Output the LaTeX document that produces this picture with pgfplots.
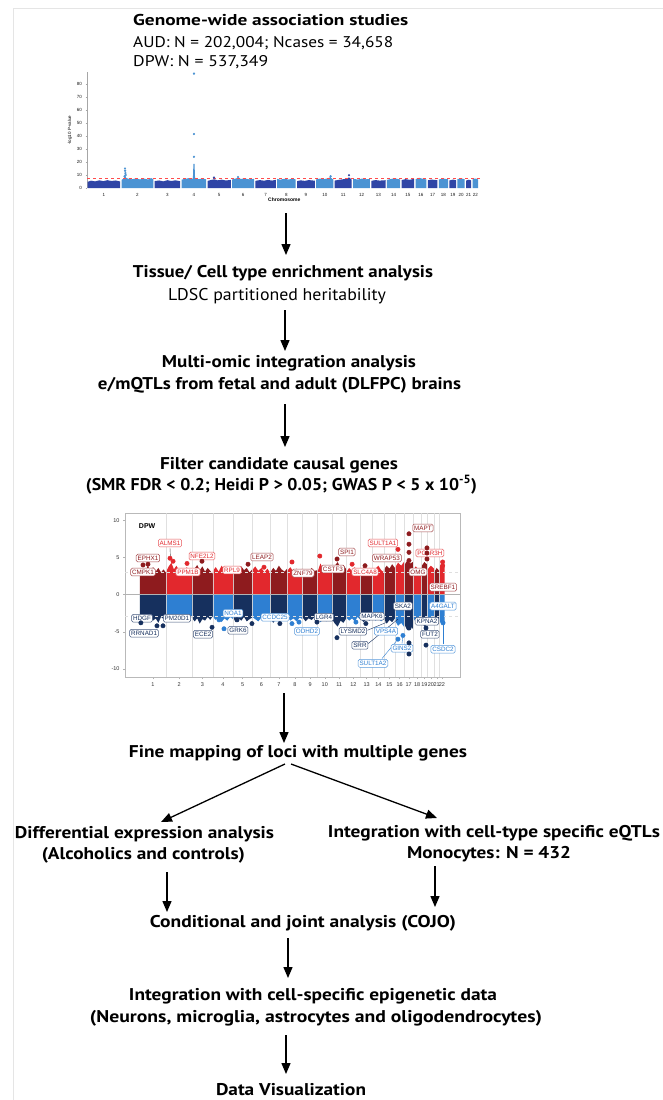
\documentclass[border=0pt]{standalone}
\usepackage{pgfplots}
\pgfplotsset{compat=1.18}
\usepackage{fontspec}
\setmainfont{PT Sans}
\newfontfamily\lab{Liberation Sans}
\usetikzlibrary{arrows.meta}
\usepackage{graphicx}
\definecolor{dred}{HTML}{8E1B1E}
\definecolor{lred}{HTML}{E2282D}
\definecolor{navy}{HTML}{16305E}
\definecolor{lblue}{HTML}{2E7FD2}
\definecolor{mdblue}{HTML}{2F45A6}
\definecolor{mlblue}{HTML}{4B93D3}
\newcommand{\fl}[3]{\resizebox{#1pt}{\height}{\fontsize{#2}{#2}\selectfont #3}}
\tikzset{flow/.style={line width=1.3pt,-{Triangle[length=11pt,width=9pt]}},
 lbl/.style={draw=#1!80,text=#1,fill=white,rounded corners=1.5pt,inner sep=1.4pt,line width=0.5pt,
   font=\lab\fontsize{6.3}{6.3}\selectfont,text height=4.6pt,text depth=0.4pt}}
\begin{document}
\begin{tikzpicture}
\useasboundingbox (0,0) rectangle (663pt,-1100pt);
\fill[white] (0,0) rectangle (663pt,-1100pt);
\draw[gray!20,line width=0.8pt] (13pt,-1100pt) -- (13pt,-8pt) -- (663pt,-8pt);
% top text
\node[anchor=base west,inner sep=0pt] at (133pt,-26pt) {\fl{275}{15.7}{\bfseries Genome-wide association studies}};
\node[anchor=base west,inner sep=0pt] at (133pt,-47pt) {\fl{260}{15.5}{AUD: N = 202,004; Ncases = 34,658}};
\node[anchor=base west,inner sep=0pt] at (133pt,-66pt) {\fl{135}{15.5}{DPW: N = 537,349}};
% Manhattan
\begin{axis}[at={(87pt,-188pt)},anchor=south west,scale only axis,width=394.7pt,height=115.7pt,
 xmin=0,xmax=2900,ymin=0,ymax=89,clip=false,
 axis lines=left,axis line style={-},x axis line style={draw=none},
 y axis line style={gray!70,line width=0.4pt},
 xtick style={draw=none},ytick style={gray!70,line width=0.3pt},
 tick align=outside,major tick length=1.5pt,
 ytick={0,10,20,30,40,50,60,70,80},
 xtick={124.5,370.5,591,785.5,971.5,1147.5,1312.5,1465,1608.5,1747,1882.5,2017,2141.5,2252.5,2357.5,2454,2539.5,2619,2687.5,2748.5,2804,2853.5},
 xticklabels={1,2,3,4,5,6,7,8,9,10,11,12,13,14,15,16,17,18,19,20,21,22},
 /pgf/number format/assume math mode=true,
 ticklabel style={font=\lab\fontsize{4.5}{5}\selectfont,text=gray!20!black},
 xlabel={\bfseries Chromosome},xlabel style={font=\lab\fontsize{5}{6}\selectfont,yshift=5pt},
 ylabel={-log10 P-value},ylabel style={font=\lab\fontsize{4.5}{5}\selectfont,yshift=-2pt}]
\addplot[fill=mdblue,draw=none] coordinates {(5,0)(5,4.8)(30,5.6)(60,5.1)(90,5.9)(120,5.3)(150,6.0)(180,5.4)(210,5.8)(244,5.0)(244,0)};
\addplot[fill=mlblue,draw=none] coordinates {(254,0)(254,6.2)(265,7.0)(276,8.5)(280,9.8)(286,8.0)(300,7.2)(330,6.7)(360,7.4)(390,6.6)(420,7.2)(450,6.5)(470,7.6)(487,6.8)(487,0)};
\addplot[fill=mdblue,draw=none] coordinates {(497,0)(497,5.3)(530,5.8)(560,5.1)(590,6.0)(620,5.4)(650,5.9)(685,5.2)(685,0)};
\addplot[fill=mlblue,draw=none] coordinates {(695,0)(695,6.4)(720,7.0)(750,7.6)(778,7.2)(782,18.5)(790,18.5)(794,7.4)(820,6.8)(850,7.3)(876,6.6)(876,0)};
\addplot[fill=mdblue,draw=none] coordinates {(886,0)(886,5.5)(910,6.1)(935,6.7)(960,5.9)(990,6.4)(1020,5.8)(1057,6.2)(1057,0)};
\addplot[fill=mlblue,draw=none] coordinates {(1067,0)(1067,6.6)(1090,7.2)(1110,7.9)(1130,7.0)(1160,7.3)(1190,6.7)(1228,7.0)(1228,0)};
\addplot[fill=mdblue,draw=none] coordinates {(1238,0)(1238,5.5)(1270,6.1)(1300,5.6)(1330,6.2)(1360,5.7)(1387,6.3)(1387,0)};
\addplot[fill=mlblue,draw=none] coordinates {(1397,0)(1397,7.0)(1420,6.4)(1450,7.1)(1480,6.5)(1510,7.2)(1533,6.6)(1533,0)};
\addplot[fill=mdblue,draw=none] coordinates {(1543,0)(1543,5.3)(1570,5.9)(1600,5.5)(1630,6.1)(1674,5.6)(1674,0)};
\addplot[fill=mlblue,draw=none] coordinates {(1684,0)(1684,6.6)(1710,7.2)(1740,6.8)(1770,7.5)(1790,8.4)(1800,7.1)(1810,6.7)(1810,0)};
\addplot[fill=mdblue,draw=none] coordinates {(1820,0)(1820,5.7)(1850,6.3)(1880,6.7)(1910,7.2)(1925,8.2)(1945,6.4)(1945,0)};
\addplot[fill=mlblue,draw=none] coordinates {(1955,0)(1955,7.1)(1990,6.5)(2020,7.2)(2050,6.7)(2079,7.0)(2079,0)};
\addplot[fill=mdblue,draw=none] coordinates {(2089,0)(2089,5.5)(2120,6.1)(2150,5.7)(2194,6.0)(2194,0)};
\addplot[fill=mlblue,draw=none] coordinates {(2204,0)(2204,6.2)(2230,6.9)(2260,7.4)(2301,6.6)(2301,0)};
\addplot[fill=mdblue,draw=none] coordinates {(2311,0)(2311,6.1)(2340,6.8)(2370,6.3)(2404,7.0)(2404,0)};
\addplot[fill=mlblue,draw=none] coordinates {(2414,0)(2414,6.8)(2440,7.8)(2470,7.0)(2494,6.6)(2494,0)};
\addplot[fill=mdblue,draw=none] coordinates {(2504,0)(2504,5.9)(2530,6.5)(2575,6.0)(2575,0)};
\addplot[fill=mlblue,draw=none] coordinates {(2585,0)(2585,6.6)(2620,7.2)(2653,6.7)(2653,0)};
\addplot[fill=mdblue,draw=none] coordinates {(2663,0)(2663,5.8)(2690,6.5)(2712,5.9)(2712,0)};
\addplot[fill=mlblue,draw=none] coordinates {(2722,0)(2722,6.9)(2750,7.4)(2775,6.7)(2775,0)};
\addplot[fill=mdblue,draw=none] coordinates {(2785,0)(2785,5.7)(2805,6.4)(2823,5.8)(2823,0)};
\addplot[fill=mlblue,draw=none] coordinates {(2833,0)(2833,6.8)(2855,7.3)(2874,6.6)(2874,0)};
\addplot[red!70,dashed,line width=0.4pt] coordinates {(0,7.3)(2900,7.3)};
\addplot[only marks,mark=*,mark size=0.9pt,mlblue] coordinates {(786,88)(786,41.5)(786,24)(279,15)(280,13.3)(282,11.5)(284,10)(276,9)(1110,8.4)(1790,9.0)};
\addplot[only marks,mark=*,mark size=0.9pt,mdblue] coordinates {(933,8.0)(1925,9.8)};
\end{axis}
% arrows and middle text
\draw[flow] (286pt,-213pt) -- (286pt,-255pt);
\node[anchor=base,inner sep=0pt] at (283pt,-277pt) {\fl{300}{17}{\bfseries Tissue/ Cell type enrichment analysis}};
\node[anchor=base,inner sep=0pt] at (277pt,-300pt) {\fl{218}{17}{LDSC partitioned heritability}};
\draw[flow] (285pt,-310pt) -- (285pt,-351pt);
\node[anchor=base,inner sep=0pt] at (289pt,-367pt) {\fl{254}{17}{\bfseries Multi-omic integration analysis}};
\node[anchor=base,inner sep=0pt] at (279.5pt,-389pt) {\fl{363}{17}{\bfseries e/mQTLs from fetal and adult (DLFPC) brains}};
\draw[flow] (285pt,-404pt) -- (285pt,-447pt);
\node[anchor=base,inner sep=0pt] at (279pt,-469pt) {\fl{238}{17}{\bfseries Filter candidate causal genes}};
\node[anchor=base,inner sep=0pt] at (281.5pt,-490pt) {\fl{391}{17}{\bfseries (SMR FDR < 0.2; Heidi P > 0.05; GWAS P < 5 x 10\textsuperscript{-5})}};
% Miami
\begin{axis}[at={(125pt,-677pt)},anchor=south west,scale only axis,width=335pt,height=164pt,
 xmin=-140,xmax=3024,ymin=-11.1,ymax=11,clip=false,
 axis line style={gray!55,line width=0.5pt},tick pos=left,tick align=outside,major tick length=2pt,
 tick style={gray!60,line width=0.4pt},ytick={-10,-5,0,5,10},
 xtick={124.5,370.5,591,785.5,971.5,1147.5,1312.5,1465,1608.5,1747,1882.5,2017,2141.5,2252.5,2357.5,2454,2539.5,2619,2687.5,2748.5,2804,2853.5},
 xticklabels={1,2,3,4,5,6,7,8,9,10,11,12,13,14,15,16,17,18,19,20,21,22},
 /pgf/number format/assume math mode=true,
 ticklabel style={font=\lab\fontsize{5.5}{6}\selectfont,text=gray!40!black}]
% upper bands
\addplot[fill=dred,draw=none] coordinates {(0,0)(0,2.7)(25,3.5)(50,3.0)(75,3.9)(100,3.2)(125,3.7)(150,3.1)(175,3.6)(200,3.0)(225,3.4)(249,2.9)(249,0)};
\addplot[fill=lred,draw=none] coordinates {(249,0)(249,3.1)(273,3.8)(298,4.3)(322,3.4)(346,3.9)(371,3.2)(395,3.6)(419,3.0)(443,3.7)(468,3.3)(492,2.9)(492,0)};
\addplot[fill=dred,draw=none] coordinates {(492,0)(492,3.0)(517,3.5)(542,4.0)(566,3.3)(591,3.8)(616,3.1)(641,3.6)(665,3.2)(690,2.8)(690,0)};
\addplot[fill=lred,draw=none] coordinates {(690,0)(690,3.2)(717,3.7)(745,3.1)(772,3.9)(799,3.4)(826,3.0)(854,3.6)(881,3.1)(881,0)};
\addplot[fill=dred,draw=none] coordinates {(881,0)(881,2.9)(907,3.5)(933,3.1)(959,3.8)(984,3.3)(1010,3.6)(1036,3.0)(1062,3.4)(1062,0)};
\addplot[fill=lred,draw=none] coordinates {(1062,0)(1062,3.3)(1090,3.8)(1119,3.2)(1148,3.6)(1176,3.0)(1205,3.5)(1233,2.9)(1233,0)};
\addplot[fill=dred,draw=none] coordinates {(1233,0)(1233,3.0)(1260,3.6)(1286,3.2)(1313,3.9)(1339,3.4)(1366,3.1)(1392,3.5)(1392,0)};
\addplot[fill=lred,draw=none] coordinates {(1392,0)(1392,3.2)(1421,3.7)(1450,3.1)(1480,3.5)(1509,3.0)(1538,3.6)(1538,0)};
\addplot[fill=dred,draw=none] coordinates {(1538,0)(1538,2.9)(1566,3.4)(1594,3.0)(1623,3.6)(1651,3.2)(1679,3.3)(1679,0)};
\addplot[fill=lred,draw=none] coordinates {(1679,0)(1679,3.1)(1706,4.2)(1733,3.4)(1761,3.8)(1788,3.2)(1815,3.6)(1815,0)};
\addplot[fill=dred,draw=none] coordinates {(1815,0)(1815,3.3)(1842,3.9)(1869,4.4)(1896,3.5)(1923,4.0)(1950,3.4)(1950,0)};
\addplot[fill=lred,draw=none] coordinates {(1950,0)(1950,3.0)(1977,3.6)(2004,3.2)(2030,3.7)(2057,3.1)(2084,3.5)(2084,0)};
\addplot[fill=dred,draw=none] coordinates {(2084,0)(2084,3.2)(2113,3.7)(2142,3.3)(2170,3.6)(2199,3.0)(2199,0)};
\addplot[fill=lred,draw=none] coordinates {(2199,0)(2199,3.1)(2226,3.5)(2253,3.9)(2279,3.3)(2306,3.0)(2306,0)};
\addplot[fill=dred,draw=none] coordinates {(2306,0)(2306,3.4)(2332,3.9)(2358,3.5)(2383,4.1)(2409,3.6)(2409,0)};
\addplot[fill=lred,draw=none] coordinates {(2409,0)(2409,3.6)(2439,4.3)(2469,3.9)(2499,4.5)(2499,0)};
\addplot[fill=dred,draw=none] coordinates {(2499,0)(2499,4.0)(2526,4.6)(2553,4.2)(2580,4.4)(2580,0)};
\addplot[fill=lred,draw=none] coordinates {(2580,0)(2580,3.2)(2606,3.8)(2632,3.4)(2658,3.6)(2658,0)};
\addplot[fill=dred,draw=none] coordinates {(2658,0)(2658,3.8)(2688,4.4)(2717,4.0)(2717,0)};
\addplot[fill=lred,draw=none] coordinates {(2717,0)(2717,3.4)(2749,3.9)(2780,3.5)(2780,0)};
\addplot[fill=dred,draw=none] coordinates {(2780,0)(2780,3.0)(2804,3.6)(2828,3.2)(2828,0)};
\addplot[fill=lred,draw=none] coordinates {(2828,0)(2828,3.7)(2854,4.3)(2879,3.9)(2879,0)};
% lower bands
\addplot[fill=navy,draw=none] coordinates {(0,0)(0,-2.8)(25,-3.4)(50,-3.0)(75,-3.7)(100,-3.1)(125,-3.5)(150,-3.2)(175,-3.8)(200,-3.0)(225,-3.3)(249,-2.9)(249,0)};
\addplot[fill=lblue,draw=none] coordinates {(249,0)(249,-3.0)(273,-3.5)(298,-3.1)(322,-3.6)(346,-3.3)(371,-3.0)(395,-3.4)(419,-3.2)(443,-3.6)(468,-3.1)(492,-2.9)(492,0)};
\addplot[fill=navy,draw=none] coordinates {(492,0)(492,-3.1)(517,-3.6)(542,-3.2)(566,-3.9)(591,-3.3)(616,-3.5)(641,-3.0)(665,-3.4)(690,-2.9)(690,0)};
\addplot[fill=lblue,draw=none] coordinates {(690,0)(690,-3.0)(717,-3.4)(745,-3.1)(772,-3.7)(799,-3.2)(826,-3.5)(854,-3.0)(881,-3.3)(881,0)};
\addplot[fill=navy,draw=none] coordinates {(881,0)(881,-3.1)(907,-3.7)(933,-3.2)(959,-3.5)(984,-3.0)(1010,-3.6)(1036,-3.3)(1062,-3.1)(1062,0)};
\addplot[fill=lblue,draw=none] coordinates {(1062,0)(1062,-3.0)(1090,-3.3)(1119,-3.6)(1148,-3.1)(1176,-3.4)(1205,-2.9)(1233,-3.2)(1233,0)};
\addplot[fill=navy,draw=none] coordinates {(1233,0)(1233,-3.2)(1260,-3.8)(1286,-3.3)(1313,-3.6)(1339,-3.0)(1366,-3.5)(1392,-3.1)(1392,0)};
\addplot[fill=lblue,draw=none] coordinates {(1392,0)(1392,-3.0)(1421,-3.5)(1450,-3.2)(1480,-3.6)(1509,-3.1)(1538,-3.3)(1538,0)};
\addplot[fill=navy,draw=none] coordinates {(1538,0)(1538,-3.1)(1566,-3.6)(1594,-3.2)(1623,-3.4)(1651,-3.0)(1679,-3.5)(1679,0)};
\addplot[fill=lblue,draw=none] coordinates {(1679,0)(1679,-3.2)(1706,-3.7)(1733,-3.3)(1761,-3.6)(1788,-3.1)(1815,-3.4)(1815,0)};
\addplot[fill=navy,draw=none] coordinates {(1815,0)(1815,-3.3)(1842,-3.9)(1869,-4.3)(1896,-3.5)(1923,-3.8)(1950,-3.2)(1950,0)};
\addplot[fill=lblue,draw=none] coordinates {(1950,0)(1950,-3.1)(1977,-3.5)(2004,-3.2)(2030,-3.6)(2057,-3.0)(2084,-3.4)(2084,0)};
\addplot[fill=navy,draw=none] coordinates {(2084,0)(2084,-3.2)(2113,-3.7)(2142,-3.3)(2170,-3.5)(2199,-3.0)(2199,0)};
\addplot[fill=lblue,draw=none] coordinates {(2199,0)(2199,-3.0)(2226,-3.5)(2253,-3.2)(2279,-3.6)(2306,-3.1)(2306,0)};
\addplot[fill=navy,draw=none] coordinates {(2306,0)(2306,-3.3)(2332,-3.9)(2358,-3.4)(2383,-3.7)(2409,-3.2)(2409,0)};
\addplot[fill=lblue,draw=none] coordinates {(2409,0)(2409,-3.5)(2439,-4.2)(2469,-3.8)(2499,-4.4)(2499,0)};
\addplot[fill=navy,draw=none] coordinates {(2499,0)(2499,-4.0)(2526,-4.8)(2553,-4.3)(2580,-4.6)(2580,0)};
\addplot[fill=lblue,draw=none] coordinates {(2580,0)(2580,-3.2)(2606,-3.6)(2632,-3.3)(2658,-3.5)(2658,0)};
\addplot[fill=navy,draw=none] coordinates {(2658,0)(2658,-3.6)(2688,-4.3)(2717,-3.9)(2717,0)};
\addplot[fill=lblue,draw=none] coordinates {(2717,0)(2717,-3.3)(2749,-3.7)(2780,-3.4)(2780,0)};
\addplot[fill=navy,draw=none] coordinates {(2780,0)(2780,-3.0)(2804,-3.4)(2828,-3.2)(2828,0)};
\addplot[fill=lblue,draw=none] coordinates {(2828,0)(2828,-3.5)(2854,-4.1)(2879,-3.7)(2879,0)};
\pgfplotsinvokeforeach{249,492,690,881,1062,1233,1392,1538,1679,1815,1950,2084,2199,2306,2409,2499,2580,2658,2717,2780,2828}{\draw[white!72!gray,line width=0.5pt,opacity=0.85] (axis cs:#1,-11.1) -- (axis cs:#1,11);}
\draw[gray!60,line width=0.8pt] (axis cs:-140,0) -- (axis cs:3024,0);
\draw[gray!25,dashed,line width=0.5pt] (axis cs:-140,2.95) -- (axis cs:3024,2.95);
\draw[gray!25,dashed,line width=0.5pt] (axis cs:-140,-2.95) -- (axis cs:3024,-2.95);
% leader lines
\draw[gray!70!black,line width=0.4pt] (axis cs:285,6.3) -- (axis cs:290,4.9);
\draw[navy,line width=0.4pt] (axis cs:2157,-6.6) -- (axis cs:2438,-3.3);
\draw[lblue,line width=0.4pt] (axis cs:2288,-8.6) -- (axis cs:2438,-6.0);
\draw[lblue,line width=0.4pt] (axis cs:2476,-6.6) -- (axis cs:2485,-5.6);
\draw[lblue,line width=0.4pt] (axis cs:2863,-6.7) -- (axis cs:2863,-2.1);
\draw[navy,line width=0.4pt] (axis cs:2150,-4.8) -- (axis cs:2335,-3.7);
% points
\addplot[only marks,mark=*,mark size=2.2pt,dred] coordinates {(30,4.0)(77,4.1)(587,4.5)(1022,4.1)(1863,4.8)(2127,3.9)(2542,8.2)(2542,6.8)(2542,5.7)(2542,4.6)(2712,6.3)(2712,5.6)(2712,4.8)};
\addplot[only marks,mark=*,mark size=2.2pt,lred] coordinates {(285,4.9)(314,4.5)(446,4.2)(1173,3.7)(1437,4.4)(1700,5.2)(2005,4.1)(2438,6.1)(2860,4.4)(2860,3.9)};
\addplot[only marks,mark=*,mark size=2.2pt,navy] coordinates {(10,-3.8)(162,-4.2)(219,-4.2)(682,-4.4)(918,-3.4)(1059,-3.9)(1323,-3.9)(1673,-3.7)(1862,-5.8)(2135,-3.9)(2542,-3.4)(2542,-4.5)(2542,-6.5)(2542,-8.0)(2703,-6.8)(2703,-4.5)};
\addplot[only marks,mark=*,mark size=2.2pt,lblue] coordinates {(748,-3.4)(795,-4.6)(1437,-3.9)(1503,-3.7)(2041,-3.7)(2438,-6.0)(2485,-5.5)(2864,-3.8)};
% labels
\node[font=\lab\bfseries\fontsize{7}{7}\selectfont] at (axis cs:69,9.26) {DPW};
\node[lbl=lred] at (axis cs:285,6.96) {ALMS1};
\node[lbl=dred] at (axis cs:77,4.93) {EPHX1};
\node[lbl=lred] at (axis cs:587,5.2) {NFE2L2};
\node[lbl=dred] at (axis cs:1154,5.07) {LEAP2};
\node[lbl=dred] at (axis cs:30,3.04) {CMPK1};
\node[lbl=lred] at (axis cs:455,3.04) {PPM1B};
\node[lbl=lred] at (axis cs:871,3.31) {RPL9};
\node[lbl=dred] at (axis cs:1541,2.9) {ZNF79};
\node[lbl=dred] at (axis cs:1824,3.45) {CSTF3};
\node[lbl=dred] at (axis cs:1956,5.74) {SPI1};
\node[lbl=lred] at (axis cs:2296,6.96) {SULT1A1};
\node[lbl=dred] at (axis cs:2334,4.93) {WRAP53};
\node[lbl=dred] at (axis cs:2674,8.99) {MAPT};
\node[lbl=lred] at (axis cs:2740,5.61) {POLR3H};
\node[lbl=lred] at (axis cs:2127,3.04) {SLC4A8};
\node[lbl=dred] at (axis cs:2627,3.04) {OMG};
\node[lbl=dred] at (axis cs:2863,1.01) {SREBF1};
\node[lbl=navy] at (axis cs:21,-3.18) {HDGF};
\node[lbl=navy] at (axis cs:40,-5.2) {RRNAD1};
\node[lbl=navy] at (axis cs:351,-3.18) {PM20D1};
\node[lbl=navy] at (axis cs:597,-5.34) {ECE2};
\node[lbl=lblue] at (axis cs:880,-2.5) {NOA1};
\node[lbl=navy] at (axis cs:927,-4.8) {GRK6};
\node[lbl=lblue] at (axis cs:1277,-3.04) {CCDC25};
\node[lbl=lblue] at (axis cs:1579,-4.93) {ODHD2};
\node[lbl=navy] at (axis cs:1739,-3.04) {LGR4};
\node[lbl=navy] at (axis cs:2193,-2.91) {MAPK6};
\node[lbl=navy] at (axis cs:2013,-4.93) {LYSMD2};
\node[lbl=navy] at (axis cs:2079,-6.82) {SRR};
\node[lbl=lblue] at (axis cs:2325,-4.93) {VPS4A};
\node[lbl=lblue] at (axis cs:2202,-9.26) {SULT1A2};
\node[lbl=lblue] at (axis cs:2476,-7.23) {GINS2};
\node[lbl=navy] at (axis cs:2485,-1.55) {SKA2};
\node[lbl=navy] at (axis cs:2712,-3.58) {KPNA2};
\node[lbl=navy] at (axis cs:2740,-5.34) {FUT2};
\node[lbl=lblue] at (axis cs:2863,-1.55) {A4GALT};
\node[lbl=lblue] at (axis cs:2863,-7.36) {CSDC2};
\end{axis}
% lower flow
\draw[flow] (284pt,-693pt) -- (284pt,-743pt);
\node[anchor=base,inner sep=0pt] at (298pt,-757pt) {\fl{338}{17}{\bfseries Fine mapping of loci with multiple genes}};
\draw[flow] (285pt,-764pt) -- (161pt,-822pt);
\draw[flow] (291pt,-764pt) -- (437pt,-818pt);
\node[anchor=base,inner sep=0pt] at (144.5pt,-838pt) {\fl{259}{17}{\bfseries Differential expression analysis}};
\node[anchor=base,inner sep=0pt] at (143.5pt,-859pt) {\fl{203}{17}{\bfseries (Alcoholics and controls)}};
\node[anchor=base,inner sep=0pt] at (494pt,-837pt) {\fl{332}{17}{\bfseries Integration with cell-type specific eQTLs}};
\node[anchor=base,inner sep=0pt] at (489pt,-858pt) {\fl{164}{17}{\bfseries Monocytes: N = 432}};
\draw[flow] (167pt,-872pt) -- (167pt,-912pt);
\draw[flow] (435pt,-866pt) -- (435pt,-907pt);
\node[anchor=base,inner sep=0pt] at (303pt,-927pt) {\fl{306}{17}{\bfseries Conditional and joint analysis (COJO)}};
\draw[flow] (288pt,-938pt) -- (288pt,-978pt);
\node[anchor=base,inner sep=0pt] at (313pt,-1000pt) {\fl{368}{17}{\bfseries Integration with cell-specific epigenetic data}};
\node[anchor=base,inner sep=0pt] at (316pt,-1022pt) {\fl{452}{17}{\bfseries (Neurons, microglia, astrocytes and oligodendrocytes)}};
\draw[flow] (286pt,-1035pt) -- (286pt,-1074pt);
\node[anchor=base,inner sep=0pt] at (291pt,-1095pt) {\fl{150}{17}{\bfseries Data Visualization}};
\end{tikzpicture}
\end{document}
